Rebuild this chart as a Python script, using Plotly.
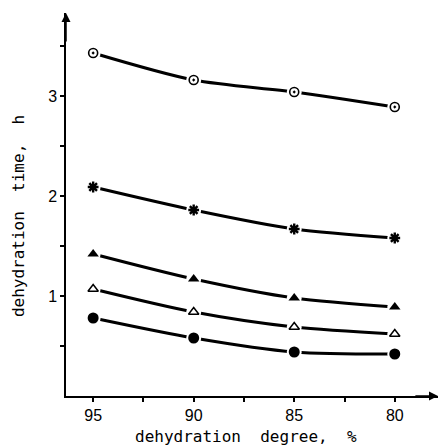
import plotly.graph_objects as go

degree = [95, 90, 85, 80]
open_circle = [3.43, 3.16, 3.04, 2.89]
star = [2.09, 1.86, 1.67, 1.58]
filled_triangle = [1.42, 1.17, 0.98, 0.89]
open_triangle = [1.07, 0.84, 0.69, 0.62]
filled_circle = [0.78, 0.58, 0.44, 0.42]

x_ticks = [95, 90, 85, 80]
x_minor = [92.5, 87.5, 82.5]
y_ticks = [1, 2, 3]
y_minor = [0.5, 1.5, 2.5, 3.5]

series = [
    (open_circle, "circle-open-dot", 9, 1.6),
    (star, "asterisk-open", 9, 2.4),
    (filled_triangle, "triangle-up", 10, 0),
    (open_triangle, "triangle-up-open", 9, 1.5),
    (filled_circle, "circle", 11, 0),
]

XMIN, XMAX = 96.35, 77.85
YMAX = 3.83

fig = go.Figure()
for ys, _, _, _ in series:
    fig.add_trace(go.Scatter(x=degree, y=ys, mode="lines",
                             line=dict(color="black", width=3, shape="spline", smoothing=0.8),
                             showlegend=False, hoverinfo="skip"))
for ys, _, _, _ in series:
    fig.add_trace(go.Scatter(x=degree, y=ys, mode="markers",
                             marker=dict(symbol="circle", size=15, color="white", line=dict(width=0)),
                             showlegend=False, hoverinfo="skip"))
for ys, sym, size, lw in series:
    fig.add_trace(go.Scatter(x=degree, y=ys, mode="markers",
                             marker=dict(symbol=sym, size=size, color="black",
                                         line=dict(color="black", width=lw)),
                             showlegend=False))

tickfont = dict(family="Liberation Sans, Arial, sans-serif", size=16, color="black")
titlefont = dict(family="DejaVu Sans Mono, monospace", size=16, color="black")
nb = "\u00a0"

common = dict(ticks="outside", ticklen=4, tickwidth=1.5, tickcolor="black",
              showline=True, linecolor="black", linewidth=1.5, showgrid=False,
              zeroline=False, tickfont=tickfont, automargin=False)

fig.update_layout(
    width=439, height=448,
    margin=dict(l=66, r=1, t=13, b=52),
    paper_bgcolor="white", plot_bgcolor="white",
    xaxis=dict(range=[XMIN, XMAX], tickmode="array", tickvals=x_ticks,
               ticktext=[str(v) for v in x_ticks],
               minor=dict(tickmode="array", tickvals=x_minor, ticks="outside", ticklen=4,
                          tickwidth=1.5, tickcolor="black", showgrid=False),
               **common),
    yaxis=dict(range=[0, YMAX], tickmode="array", tickvals=y_ticks,
               ticktext=[str(v) for v in y_ticks],
               minor=dict(tickmode="array", tickvals=y_minor, ticks="outside", ticklen=4,
                          tickwidth=1.5, tickcolor="black", showgrid=False),
               **common),
)

fig.add_annotation(text=f"dehydration{nb}{nb}degree,{nb}{nb}%", xref="paper", yref="paper",
                   x=0.484, y=-0.107, showarrow=False, font=titlefont,
                   xanchor="center", yanchor="middle")
fig.add_annotation(text=f"dehydration{nb}{nb}time,{nb}{nb}h", xref="paper", yref="paper",
                   x=-0.126, y=0.47, showarrow=False, font=titlefont, textangle=-90,
                   xanchor="center", yanchor="middle")

fig.add_annotation(x=XMAX, y=0, ax=XMAX + 1.2, ay=0, xref="x", yref="y", axref="x", ayref="y",
                   text="", showarrow=True, arrowhead=2, arrowsize=1.2, arrowwidth=1.5,
                   arrowcolor="black")
fig.add_annotation(x=XMIN, y=YMAX, ax=XMIN, ay=YMAX - 0.3, xref="x", yref="y", axref="x", ayref="y",
                   text="", showarrow=True, arrowhead=2, arrowsize=1.2, arrowwidth=1.5,
                   arrowcolor="black")

fig.write_html("out.html", config={"displayModeBar": False},
               post_script="document.body.style.margin='0';document.body.style.overflow='hidden';")
